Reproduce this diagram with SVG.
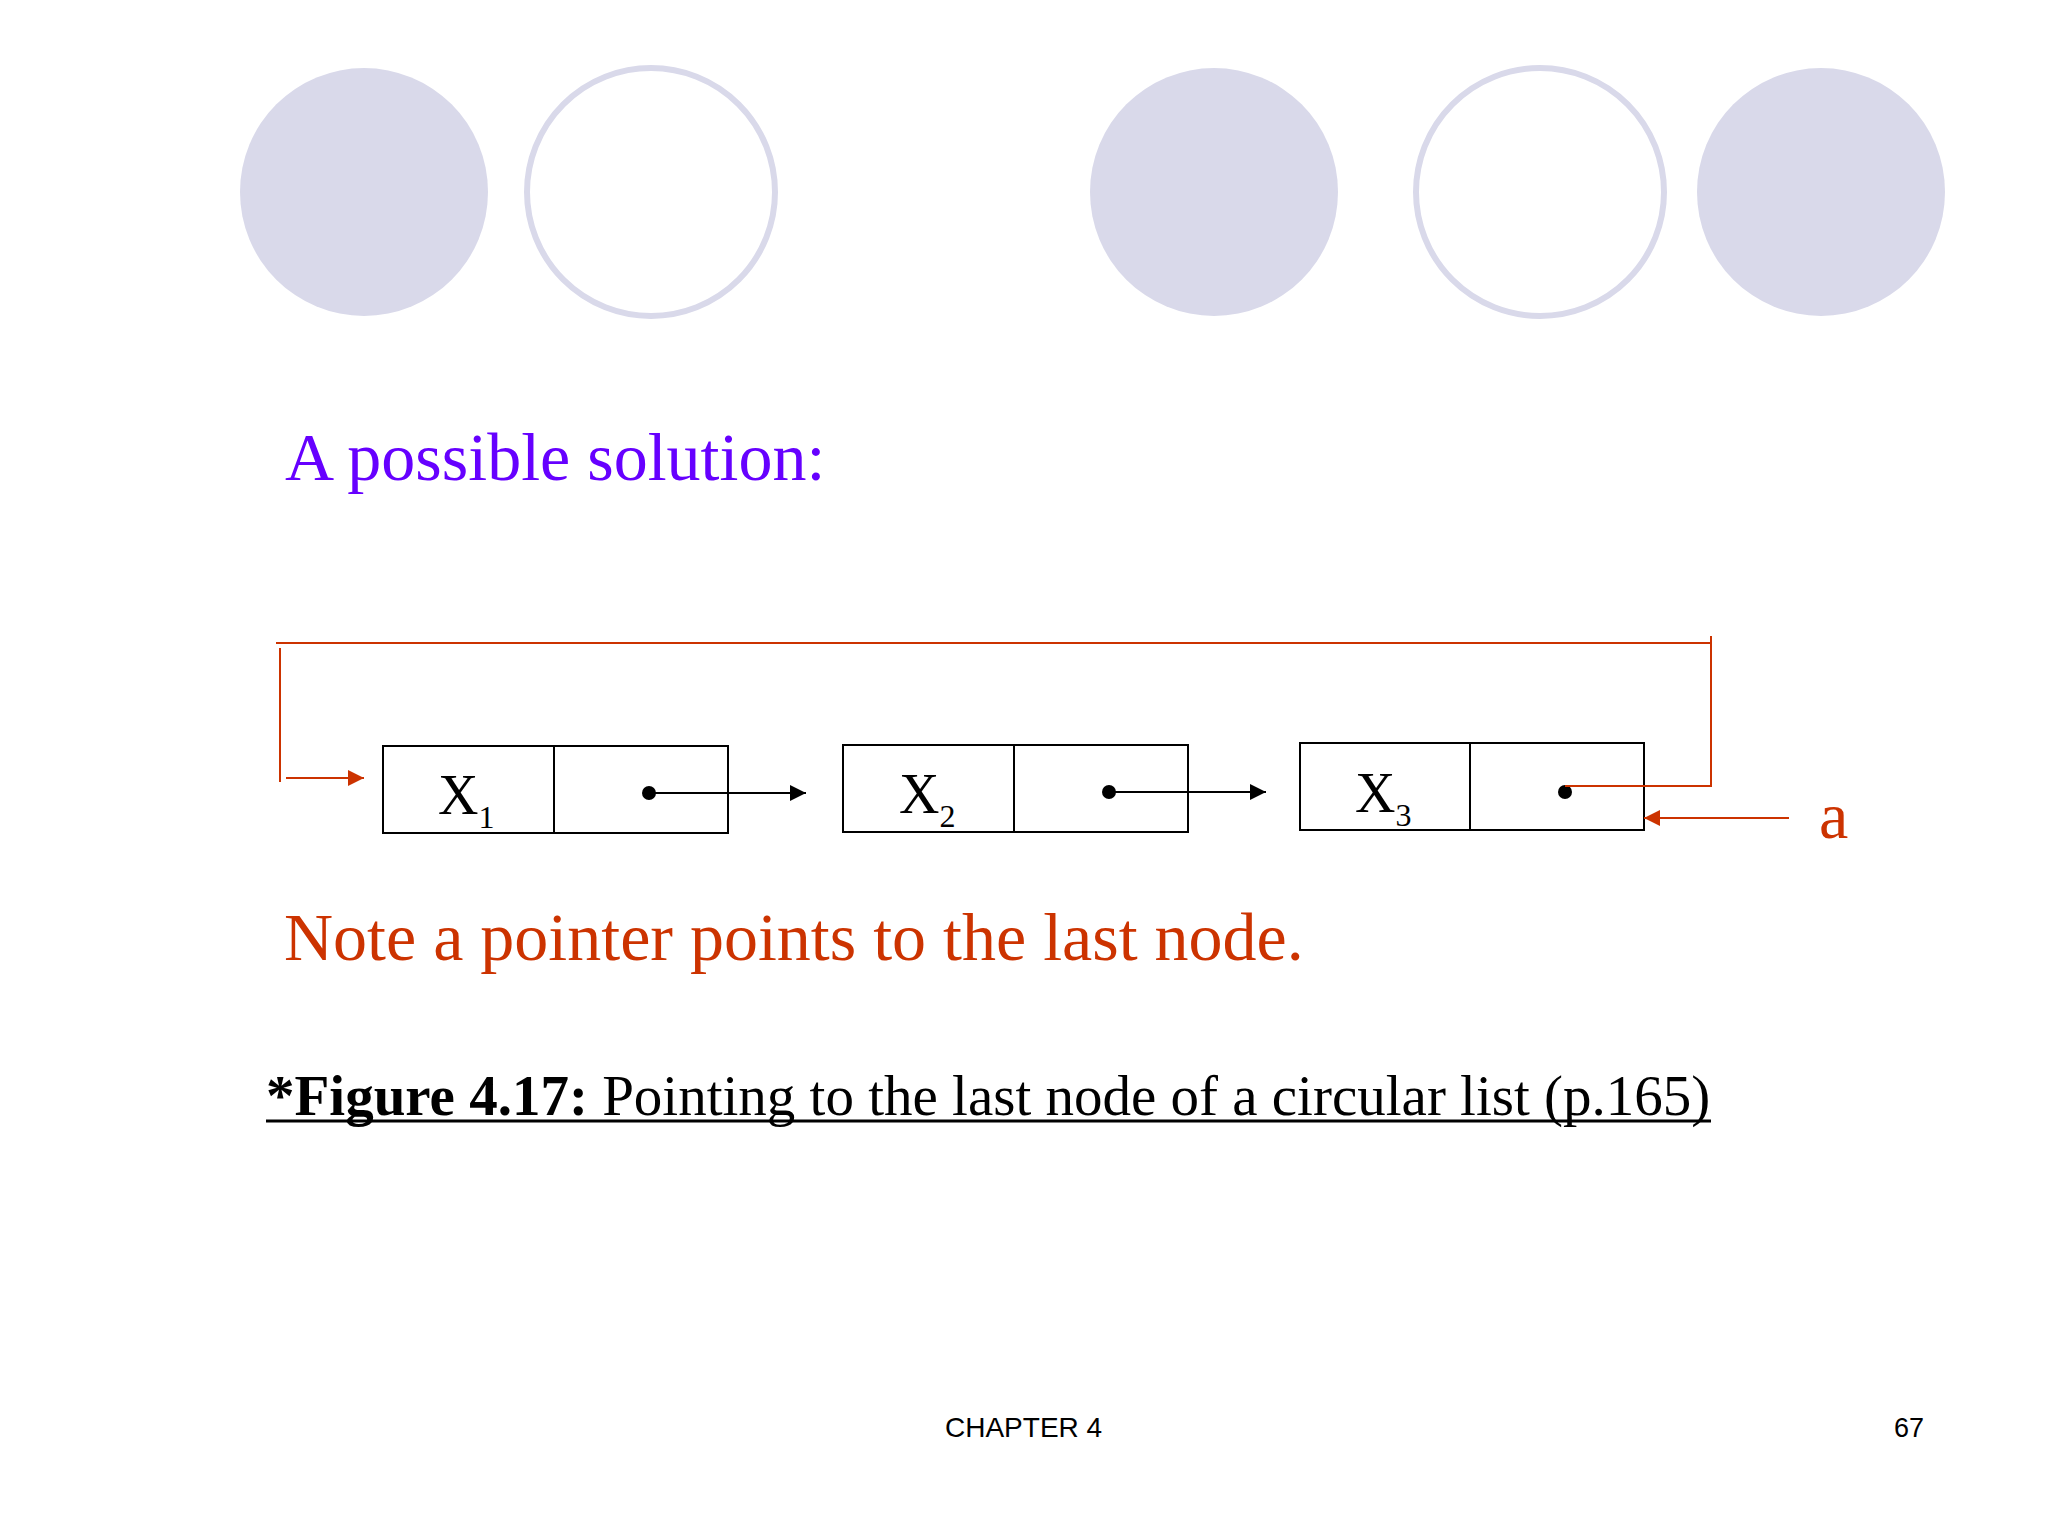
<svg xmlns="http://www.w3.org/2000/svg" width="2048" height="1536" viewBox="0 0 2048 1536">
<style>
.disc{fill:#d9d9ea;stroke:none}
.ring{fill:#ffffff;stroke:#d9d9ea;stroke-width:6}
.cell{fill:#ffffff;stroke:#000000;stroke-width:2}
.lbl{font-family:"Liberation Serif","Times New Roman",serif;font-size:56px;fill:#000000}
.sub{font-size:32px}
.blk{stroke:#000000;stroke-width:2;fill:none}
.red{stroke:#cc3300;stroke-width:2;fill:none}
.dot{fill:#000000}
</style>
<defs>
<marker id="ab" viewBox="0 0 10 10" refX="10" refY="5" markerWidth="17" markerHeight="16" markerUnits="userSpaceOnUse" orient="auto">
<path d="M0,0 L10,5 L0,10 z" fill="#000000"/>
</marker>
<marker id="ar" viewBox="0 0 10 10" refX="10" refY="5" markerWidth="17" markerHeight="16" markerUnits="userSpaceOnUse" orient="auto">
<path d="M0,0 L10,5 L0,10 z" fill="#cc3300"/>
</marker>
</defs>
<rect width="2048" height="1536" fill="#ffffff"/>
<g id="decor">
<circle class="disc" cx="364" cy="192" r="124"/>
<circle class="ring" cx="651" cy="192" r="124"/>
<circle class="disc" cx="1214" cy="192" r="124"/>
<circle class="ring" cx="1540" cy="192" r="124"/>
<circle class="disc" cx="1821" cy="192" r="124"/>
</g>
<text id="title" x="285" y="480" font-family="Liberation Serif, Times New Roman, serif" font-size="68" fill="#6600ff">A possible solution:</text>
<g id="node1">
<rect class="cell" x="383" y="746" width="345" height="87"/>
<line class="blk" x1="554" y1="746" x2="554" y2="833"/>
<text class="lbl" x="438" y="814">X<tspan class="sub" dy="14">1</tspan></text>
<circle class="dot" cx="649" cy="793" r="7"/>
</g>
<g id="node2">
<rect class="cell" x="843" y="745" width="345" height="87"/>
<line class="blk" x1="1014" y1="745" x2="1014" y2="832"/>
<text class="lbl" x="899" y="813">X<tspan class="sub" dy="14">2</tspan></text>
<circle class="dot" cx="1109" cy="792" r="7"/>
</g>
<g id="node3">
<rect class="cell" x="1300" y="743" width="344" height="87"/>
<line class="blk" x1="1470" y1="743" x2="1470" y2="830"/>
<text class="lbl" x="1355" y="812">X<tspan class="sub" dy="14">3</tspan></text>
<circle class="dot" cx="1565" cy="792" r="7"/>
</g>
<g id="connectors">
<line class="blk" x1="649" y1="793" x2="806" y2="793" marker-end="url(#ab)"/>
<line class="blk" x1="1109" y1="792" x2="1266" y2="792" marker-end="url(#ab)"/>
<polyline class="red" points="1565,786 1711,786 1711,636"/>
<line class="red" x1="276" y1="643" x2="1711" y2="643"/>
<line class="red" x1="280" y1="648" x2="280" y2="782"/>
<line class="red" x1="286" y1="778" x2="364" y2="778" marker-end="url(#ar)"/>
<line class="red" x1="1789" y1="818" x2="1644" y2="818" marker-end="url(#ar)"/>
</g>
<text id="ptr" x="1819" y="838" font-family="Liberation Serif, Times New Roman, serif" font-size="66" fill="#cc3300">a</text>
<text id="note" x="284" y="960" font-family="Liberation Serif, Times New Roman, serif" font-size="68" fill="#cc3300">Note a pointer points to the last node.</text>
<text id="caption" x="266" y="1115" font-family="Liberation Serif, Times New Roman, serif" font-size="57" fill="#000000"><tspan font-weight="bold">*Figure 4.17:</tspan> Pointing to the last node of a circular list (p.165)</text>
<line x1="266" y1="1121" x2="1711" y2="1121" stroke="#000000" stroke-width="3"/>
<text id="footer" x="945" y="1437" font-family="Liberation Sans, Arial, sans-serif" font-size="28" fill="#000000">CHAPTER 4</text>
<text id="page" x="1894" y="1437" font-family="Liberation Sans, Arial, sans-serif" font-size="27" fill="#000000">67</text>
</svg>
